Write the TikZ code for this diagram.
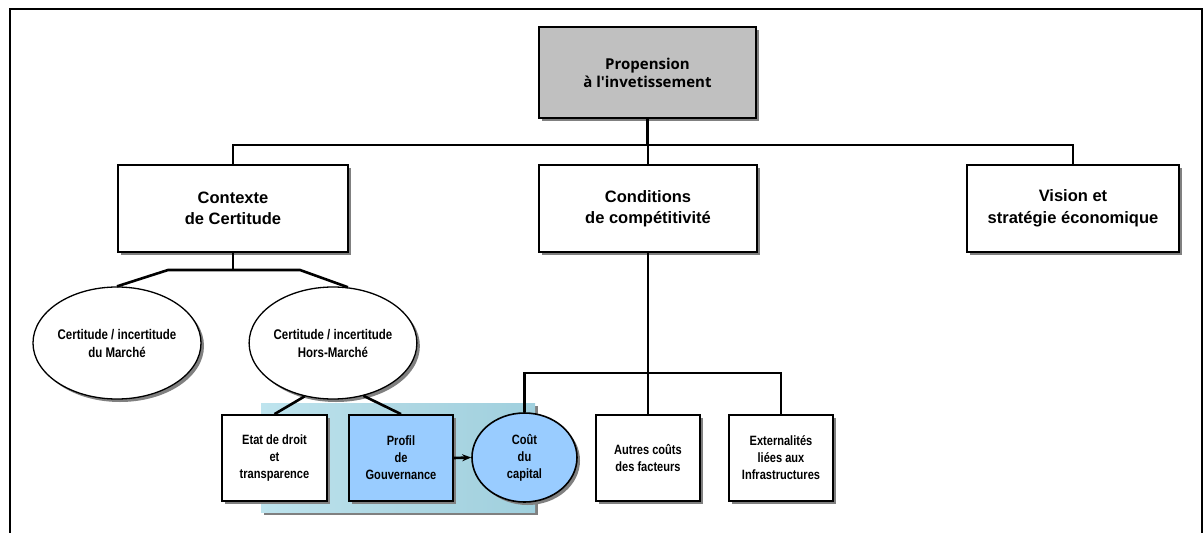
\documentclass[tikz,border=0pt]{standalone}
\usepackage{fontspec}
\setmainfont{Liberation Sans}
\newfontfamily\narrowfont{Liberation Sans}[FakeStretch=0.82]
\newfontfamily\titlefont{Open Sans}
\usetikzlibrary{shapes.geometric,shadows,arrows.meta}
\definecolor{boxblue}{RGB}{153,204,255}
\definecolor{topgray}{RGB}{192,192,192}
\definecolor{water}{RGB}{160,208,222}
\definecolor{waterlight}{RGB}{190,228,238}
\definecolor{shadowgray}{RGB}{128,128,128}
\tikzset{
  shad/.style={drop shadow={shadow xshift=3pt,shadow yshift=-3pt,fill=shadowgray,opacity=1}},
  topbox/.style={draw,line width=1.2pt,fill=topgray,shad,inner sep=0pt,align=center,
    font=\titlefont\fontsize{15}{18}\selectfont\bfseries},
  bigbox/.style={draw,line width=1.8pt,fill=white,shad,inner sep=0pt,minimum height=87pt,align=center,
    font=\fontsize{16.5}{21.5}\selectfont\bfseries},
  oval/.style={ellipse,draw,line width=1.3pt,fill=white,shad,inner sep=0pt,align=center,
    font=\narrowfont\fontsize{14}{18}\selectfont\bfseries},
  smallbox/.style={draw,line width=1.8pt,fill=white,shad,inner sep=0pt,minimum width=104pt,minimum height=86pt,align=center,
    font=\narrowfont\fontsize{13.5}{17}\selectfont\bfseries},
  conn/.style={line width=2.6pt},
}
\begin{document}
\begin{tikzpicture}[x=1pt,y=-1pt]
\useasboundingbox (0,0) rectangle (1203,533);
% frame
\draw[line width=2.6pt] (10,540) -- (10,9) -- (1202,9) -- (1202,540);
% textured background
\fill[shadowgray] (264,406) rectangle (538,515);
\shade[left color=waterlight,right color=water,middle color=water!85!white] (261,403) rectangle (535,512);
% nodes
\node[topbox,minimum width=217pt,minimum height=91pt] (top) at (647.5,72.5) {Propension\\à l'invetissement};
\node[bigbox,minimum width=230pt] (ctx) at (233,208.5) {Contexte\\de Certitude};
\node[bigbox,minimum width=218pt] (cond) at (648,208.5) {Conditions\\de compétitivité};
\node[bigbox,minimum width=212pt] (vis) at (1073,208.5) {Vision et\\stratégie économique};
\node[oval,minimum width=168pt,minimum height=112pt] (ell1) at (117,343) {Certitude / incertitude\\du Marché};
\node[oval,minimum width=166pt,minimum height=112pt] (ell2) at (333,343) {Certitude / incertitude\\Hors-Marché};
\node[smallbox,minimum width=105pt] (etat) at (274.5,458) {Etat de droit\\et\\transparence};
\node[smallbox,fill=boxblue] (profil) at (401,458) {Profil\\de\\Gouvernance};
\node[oval,fill=boxblue,line width=1.6pt,minimum width=105pt,minimum height=89pt,
  font=\narrowfont\fontsize{13.5}{17}\selectfont\bfseries] (cout) at (524.5,457.5) {Coût\\du\\capital};
\node[smallbox] (autres) at (648,458) {Autres coûts\\des facteurs};
\node[smallbox] (ext) at (781,458) {Externalités\\liées aux\\Infrastructures};
% bus coordinates
\coordinate (bus1) at (0,145);
\coordinate (j1) at (168,270);
\coordinate (j2) at (300,270);
\coordinate (bus2) at (0,373);
% connectors
\draw[conn] (top.south) -- (top.south |- bus1);
\draw[conn] (ctx.north) -- (ctx.north |- bus1) -- (vis.north |- bus1) -- (vis.north);
\draw[conn] (cond.north) -- (cond.north |- bus1);
\draw[conn] (ctx.south) -- (ctx.south |- j1);
\draw[conn] (ell1.north) -- (j1) -- (j2) -- (ell2.75);
\draw[conn] (ell2.242) -- (etat.north);
\draw[conn] (ell2.300) -- (profil.north);
\draw[conn,-{Stealth[length=9pt,width=7pt]}] (profil.east) -- (cout.west);
\draw[conn] (cout.north) -- (cout.north |- bus2) -- (ext.north |- bus2) -- (ext.north);
\draw[conn] (cond.south) -- (autres.north);
\end{tikzpicture}
\end{document}
